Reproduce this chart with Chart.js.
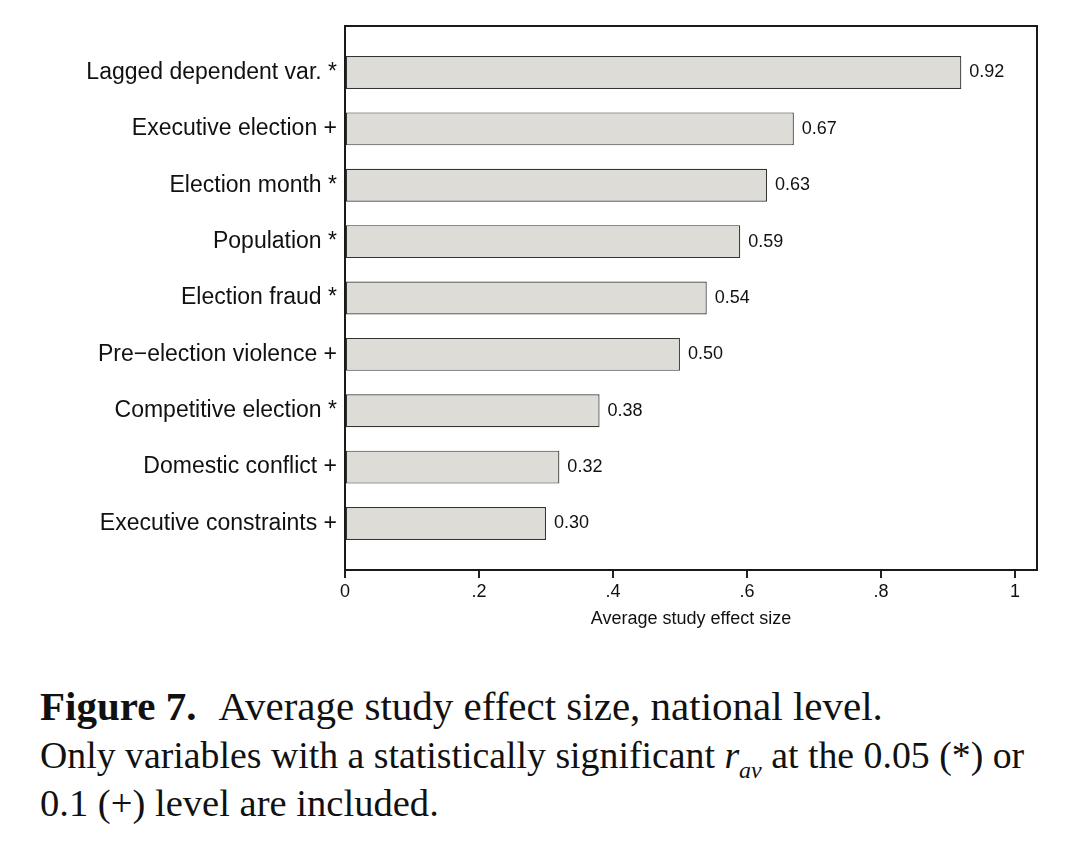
<!DOCTYPE html>
<html>
<head>
<meta charset="utf-8">
<script src="https://cdn.jsdelivr.net/npm/chart.js@4/dist/chart.umd.min.js"></script>
<style>
  body { margin: 0; background: #fff; }
  #wrap { position: relative; width: 1086px; height: 848px; }
  #caption {
    position: absolute; left: 40px; top: 682px; width: 1046px;
    font-family: "Liberation Serif", "DejaVu Serif", serif;
    font-size: 38px; line-height: 48px; color: #111; white-space: nowrap;
  }
  #caption .l1 { font-size: 41px; }
  #caption .l1 b { margin-right: 22px; }
  #caption .l2 { font-size: 37.8px; }
  #caption .l3 { font-size: 38.6px; }
  #caption sub { font-size: 24px; vertical-align: -10px; line-height: 0; }
</style>
</head>
<body>
<div id="wrap">
  <canvas id="myBarChart" width="1086" height="660"></canvas>
  <div id="caption">
    <span class="l1"><b>Figure 7.</b>Average study effect size, national level.</span><br>
    <span class="l2">Only variables with a statistically significant <i>r</i><sub><i>av</i></sub> at the 0.05 (*) or</span><br>
    <span class="l3">0.1 (+) level are included.</span>
  </div>
</div>
<script>
const categories = [
  "Lagged dependent var. *",
  "Executive election +",
  "Election month *",
  "Population *",
  "Election fraud *",
  "Pre\u2212election violence +",
  "Competitive election *",
  "Domestic conflict +",
  "Executive constraints +"
];
const values = [0.92, 0.67, 0.63, 0.59, 0.54, 0.50, 0.38, 0.32, 0.30];
const xTicks = [0, 0.2, 0.4, 0.6, 0.8, 1];

const points = values.map((v, i) => ({ x: v, y: i }));

// numbers next to the bars
const valueLabels = {
  id: "valueLabels",
  afterDatasetsDraw(chart) {
    const ctx = chart.ctx;
    const meta = chart.getDatasetMeta(0);
    ctx.save();
    ctx.font = "18px 'Liberation Sans', Arial, sans-serif";
    ctx.fillStyle = "#111";
    ctx.textBaseline = "middle";
    meta.data.forEach((bar, i) => {
      ctx.fillText(values[i].toFixed(2), bar.x + 8, bar.y);
    });
    ctx.restore();
  }
};

// box round the plot
const frame = {
  id: "frame",
  afterDraw(chart) {
    const a = chart.chartArea;
    const ctx = chart.ctx;
    ctx.save();
    ctx.strokeStyle = "#1a1a1a";
    ctx.lineWidth = 2;
    ctx.strokeRect(a.left, a.top, a.right - a.left, a.bottom - a.top);
    ctx.restore();
  }
};

const ctx = document.getElementById("myBarChart");
new Chart(ctx, {
  type: "bar",
  data: {
    datasets: [{
      data: points,
      backgroundColor: "#dddcd7",
      borderColor: "#333",
      borderWidth: 1.2,
      borderSkipped: false,
      barPercentage: 0.585,
      categoryPercentage: 1
    }]
  },
  options: {
    indexAxis: "y",
    responsive: false,
    animation: false,
    layout: { padding: { left: 0, top: 26, right: 49, bottom: 26 } },
    plugins: { legend: { display: false }, tooltip: { enabled: false } },
    scales: {
      x: {
        type: "linear",
        min: 0,
        max: 1.033,
        afterBuildTicks: (s) => { s.ticks = xTicks.map((v) => ({ value: v })); },
        afterFit: (s) => { s.height = 64; },
        ticks: {
          padding: 3,
          color: "#111",
          font: { family: "'Liberation Sans', Arial, sans-serif", size: 18 },
          callback: (v) => (v === 0 ? "0" : v === 1 ? "1" : v.toFixed(1).replace(/^0/, ""))
        },
        grid: { drawOnChartArea: false, drawTicks: true, tickLength: 8, color: "#222", lineWidth: 2 },
        border: { display: true, color: "#111", width: 2 },
        title: {
          display: true,
          text: "Average study effect size",
          color: "#111",
          font: { family: "'Liberation Sans', Arial, sans-serif", size: 18 },
          padding: { top: 4, bottom: 4 }
        }
      },
      y: {
        type: "linear",
        reverse: true,
        offset: false,
        min: -0.825,
        max: 8.825,
        afterBuildTicks: (s) => { s.ticks = categories.map((c, i) => ({ value: i })); },
        afterFit: (s) => { s.width = 345; },
        ticks: {
          padding: 8,
          color: "#111",
          font: { family: "'Liberation Sans', Arial, sans-serif", size: 23 },
          callback: (v) => categories[v]
        },
        grid: { drawOnChartArea: false, drawTicks: false, offset: false },
        border: { display: true, color: "#111", width: 2 }
      }
    }
  },
  plugins: [valueLabels, frame]
});
</script>
</body>
</html>
